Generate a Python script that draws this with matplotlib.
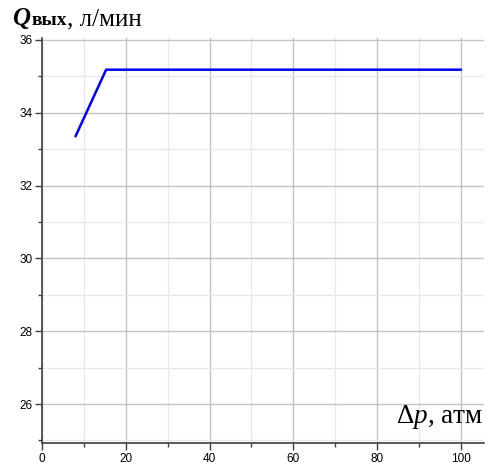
import matplotlib
matplotlib.use('Agg')
import matplotlib.pyplot as plt
from matplotlib.ticker import MultipleLocator

plt.rcParams['mathtext.fontset'] = 'custom'
plt.rcParams['mathtext.rm'] = 'Liberation Serif'
plt.rcParams['mathtext.it'] = 'Liberation Serif:italic'
plt.rcParams['mathtext.bf'] = 'Liberation Serif:bold'

# Data
dp = [8.0, 15.3, 100.0]
q_out = [33.35, 35.18, 35.18]

W, H = 491, 472
fig = plt.figure(figsize=(W / 100, H / 100), dpi=100)
fig.patch.set_facecolor('white')


def fx(px):
    return px / W


def fy(py):
    return 1 - py / H


ax = fig.add_axes([fx(42), fy(443), fx(484) - fx(42), fy(38) - fy(443)])
ax.set_xlim(0, 105.5)
ax.set_ylim(24.93, 36.05)

ax.xaxis.set_major_locator(MultipleLocator(20))
ax.xaxis.set_minor_locator(MultipleLocator(10))
ax.yaxis.set_major_locator(MultipleLocator(2))
ax.yaxis.set_minor_locator(MultipleLocator(1))

ax.grid(which='major', color='#c4c4c4', linewidth=1.0)
ax.grid(which='minor', color='#e8e8e8', linewidth=1.0)
ax.set_axisbelow(True)

for s in ('top', 'right'):
    ax.spines[s].set_visible(False)
for s in ('left', 'bottom'):
    ax.spines[s].set_color('#404040')
    ax.spines[s].set_linewidth(1.2)

ax.tick_params(which='major', length=5, width=1, color='#404040',
               labelsize=8.5, pad=2)
ax.tick_params(which='minor', length=3, width=1, color='#404040')
for lab in ax.get_xticklabels() + ax.get_yticklabels():
    lab.set_family('Liberation Sans')

ax.plot(dp, q_out, color='#0000ff', linewidth=1.8, solid_capstyle='round',
        zorder=3)

# axis titles
fig.text(fx(12), fy(25), 'Q', family='Liberation Serif', fontsize=18,
         fontweight='bold', fontstyle='italic', ha='left', va='baseline')
fig.text(fx(32), fy(25), 'вых', family='Liberation Serif', fontsize=14,
         fontweight='bold', ha='left', va='baseline')
fig.text(fx(67), fy(25), ', л/мин', family='Liberation Serif', fontsize=18,
         ha='left', va='baseline')

fig.text(fx(483), fy(423), r'Δ$\mathit{p}$, атм',
         family='Liberation Serif', fontsize=19.5, ha='right', va='baseline')

fig.savefig('out.png', dpi=100, facecolor='white')
